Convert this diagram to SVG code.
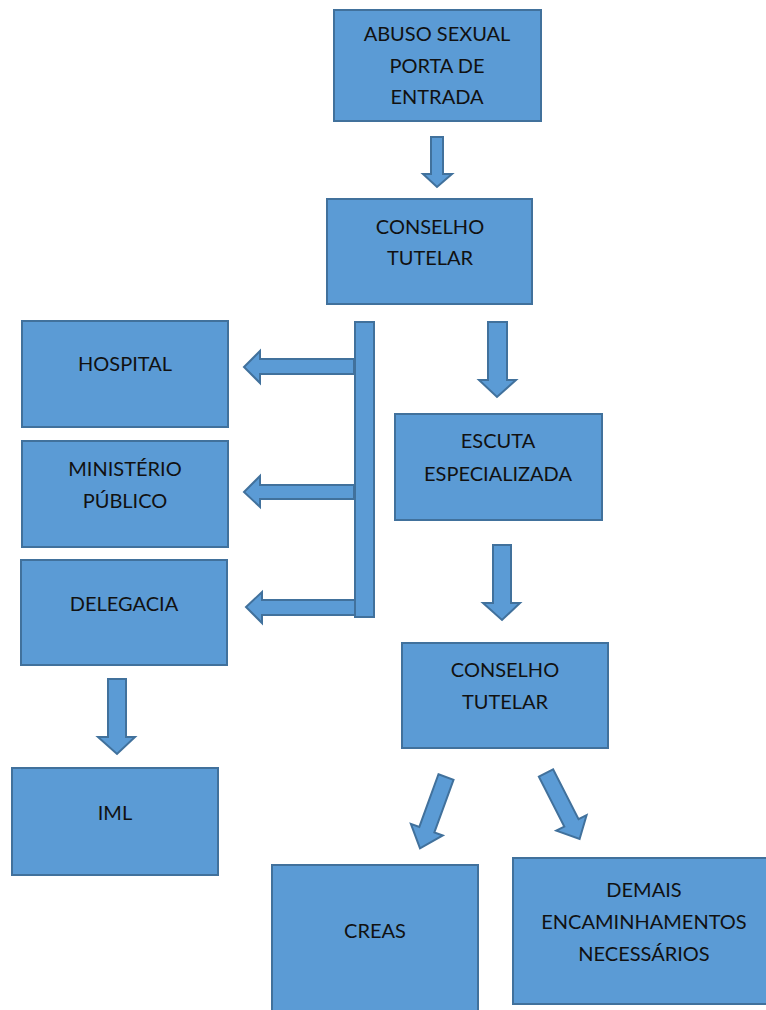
<svg xmlns="http://www.w3.org/2000/svg" width="766" height="1010" viewBox="0 0 766 1010">
<style>
.box{fill:#5B9BD5;stroke:#41719C;stroke-width:2}
.arr{fill:#5B9BD5;stroke:#41719C;stroke-width:2;stroke-linejoin:miter}
text{font-family:Lato,"Open Sans","Liberation Sans",sans-serif;font-size:20px;fill:#111;text-anchor:middle}
</style>
<rect width="766" height="1010" fill="#fff"/>
<g id="connectors">
<polygon class="arr" points="431,137 443,137 443,174 452,174 437,187 423,174 431,174"/>
<polygon class="arr" points="488,322 507,322 507,380 516,380 497,397 479,380 488,380"/>
<polygon class="arr" points="493,545 511,545 511,603 520,603 502,620 483,603 493,603"/>
<polygon class="arr" points="108,679 126,679 126,737 135,737 117,754 98,737 108,737"/>
<rect class="arr" x="355" y="322" width="19" height="295"/>
<polygon class="arr" points="354,359 354,374 260,374 260,383 244,367 260,351 260,359"/>
<polygon class="arr" points="354,485 354,499 260,499 260,507 244,492 260,476 260,485"/>
<polygon class="arr" points="355,600 355,615 262,615 262,623 246,607 262,592 262,600"/>
<polygon class="arr" transform="translate(446,777) rotate(20)" points="-8,0 8,0 8,56 17,56 0,76 -17,56 -8,56"/>
<polygon class="arr" transform="translate(546,773) rotate(-27)" points="-8,0 8,0 8,56 17,56 0,74 -17,56 -8,56"/>
</g>
<g id="abuso"><rect class="box" x="334" y="10" width="207" height="111"/><text x="437" y="41">ABUSO SEXUAL</text><text x="437" y="73">PORTA DE</text><text x="437" y="104">ENTRADA</text></g>
<g id="conselho1"><rect class="box" x="327" y="199" width="205" height="105"/><text x="430" y="234">CONSELHO</text><text x="430" y="265">TUTELAR</text></g>
<g id="hospital"><rect class="box" x="22" y="321" width="206" height="106"/><text x="125" y="371">HOSPITAL</text></g>
<g id="ministerio"><rect class="box" x="22" y="441" width="206" height="106"/><text x="125" y="476">MINISTÉRIO</text><text x="125" y="508">PÚBLICO</text></g>
<g id="delegacia"><rect class="box" x="21" y="560" width="206" height="105"/><text x="124" y="611">DELEGACIA</text></g>
<g id="iml"><rect class="box" x="12" y="768" width="206" height="107"/><text x="115" y="820">IML</text></g>
<g id="escuta"><rect class="box" x="395" y="414" width="207" height="106"/><text x="498" y="448">ESCUTA</text><text x="498" y="481">ESPECIALIZADA</text></g>
<g id="conselho2"><rect class="box" x="402" y="643" width="206" height="105"/><text x="505" y="677">CONSELHO</text><text x="505" y="709">TUTELAR</text></g>
<g id="creas"><rect class="box" x="272" y="865" width="206" height="150"/><text x="375" y="938">CREAS</text></g>
<g id="demais"><rect class="box" x="513" y="858" width="263" height="146"/><text x="644" y="897">DEMAIS</text><text x="644" y="929">ENCAMINHAMENTOS</text><text x="644" y="961">NECESSÁRIOS</text></g>
</svg>
